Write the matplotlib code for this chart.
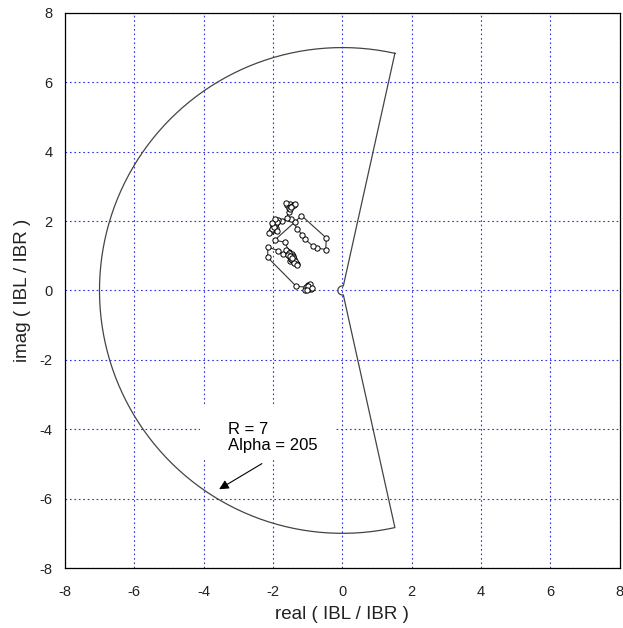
import numpy as np
import matplotlib.pyplot as plt
from matplotlib.patches import Rectangle

plt.rcParams['font.family'] = ['Liberation Sans', 'DejaVu Sans']
plt.rcParams['axes.unicode_minus'] = False

# restraint characteristic settings
R_outer = 7.0
R_inner = 0.13
alpha_deg = 205

real_vals = [-0.95, -1.00, -0.90, -1.00, -0.95, -1.05, -0.92, -1.08, -0.98, -1.02,
             -0.88, -1.33, -2.15, -2.15, -1.85, -1.70,
             -1.60, -1.55, -1.45, -1.50, -1.40, -1.45, -1.35, -1.50, -1.40, -1.30,
             -1.55, -1.48, -1.38, -1.58, -1.42, -1.33, -1.52, -1.46,
             -1.62, -1.53, -1.43, -1.36, -1.57, -1.47, -1.39, -1.31, -1.50, -1.44,
             -1.66, -1.95, -1.37, -1.18, -0.46, -0.48, -0.72, -0.85, -1.09, -1.16,
             -1.30, -1.47, -1.75, -1.90, -2.00, -1.95, -2.05, -1.90, -2.00, -1.85,
             -1.95, -2.02, -1.88, -1.98, -1.93, -2.04, -1.87, -2.10, -1.60,
             -1.55, -1.60, -1.50, -1.45, -1.55, -1.40, -1.50, -1.62, -1.36, -1.48]
imag_vals = [0.10, 0.15, 0.05, 0.05, 0.15, 0.10, 0.18, 0.02, 0.12, 0.00,
             0.08, 0.12, 0.95, 1.25, 1.15, 1.05,
             1.15, 1.10, 0.95, 0.85, 0.90, 1.05, 0.80, 1.00, 0.85, 0.75,
             1.05, 0.92, 0.82, 1.12, 0.98, 0.78, 0.95, 0.88,
             1.18, 1.08, 0.96, 0.86, 1.02, 0.90, 0.80, 0.72, 0.98, 0.93,
             1.39, 1.45, 1.97, 2.16, 1.51, 1.18, 1.22, 1.28, 1.49, 1.60,
             1.78, 2.07, 2.00, 1.95, 1.85, 1.75, 1.70, 1.80, 1.92, 2.02,
             1.88, 1.78, 1.98, 1.84, 2.06, 1.93, 1.72, 1.65, 2.10,
             2.25, 2.45, 2.50, 2.42, 2.38, 2.45, 2.35, 2.52, 2.50, 2.40]

fig = plt.figure(figsize=(6.23, 6.28), dpi=100)
ax = fig.add_axes([0.104, 0.0955, 0.891, 0.884])

# characteristic boundary
half = np.radians(alpha_deg / 2)
a0 = np.pi - half
a1 = np.pi + half
t_out = np.linspace(a0, a1, 300)
t_in = np.linspace(a1, a0, 60)
bx = np.concatenate([R_outer * np.cos(t_out), R_inner * np.cos(t_in), [R_outer * np.cos(a0)]])
by = np.concatenate([R_outer * np.sin(t_out), R_inner * np.sin(t_in), [R_outer * np.sin(a0)]])
ax.plot(bx, by, color='#444444', lw=0.9, zorder=3)

ax.plot(real_vals, imag_vals, color='#333333', lw=0.8, marker='o', ms=3.8,
        mfc='white', mec='black', mew=0.7, zorder=4)

ax.set_xlim(-8, 8)
ax.set_ylim(-8, 8)
ticks = [-8, -6, -4, -2, 0, 2, 4, 6, 8]
ax.set_xticks(ticks)
ax.set_yticks(ticks)
ax.tick_params(length=0, labelsize=10.5, labelcolor='#222222')
ax.tick_params(axis='x', pad=12)
ax.tick_params(axis='y', pad=9)
ax.grid(True, color='#3030e0', linestyle=(0, (1.5, 2.5)), lw=0.8)
ax.set_axisbelow(True)
for s in ax.spines.values():
    s.set_linewidth(0.9)

ax.set_xlabel('real ( IBL / IBR )', fontsize=13.5, labelpad=5, color='#222222')
ax.set_ylabel('imag ( IBL / IBR )', fontsize=13.5, labelpad=6, color='#222222')

# white box behind the annotation text
ax.add_patch(Rectangle((-4.1, -4.85), 3.85, 1.55, facecolor='white',
                       edgecolor='none', zorder=2))
ax.text(-3.29, -3.8, f'R = {R_outer:g}\nAlpha = {alpha_deg}', fontsize=12,
        ha='left', va='top', linespacing=1.05, zorder=5)
ax.annotate('', xy=(-3.62, -5.77), xytext=(-2.25, -4.95),
            arrowprops=dict(arrowstyle='-|>', color='black', lw=0.8,
                            mutation_scale=14), zorder=5)

plt.savefig('out.png', dpi=100)
